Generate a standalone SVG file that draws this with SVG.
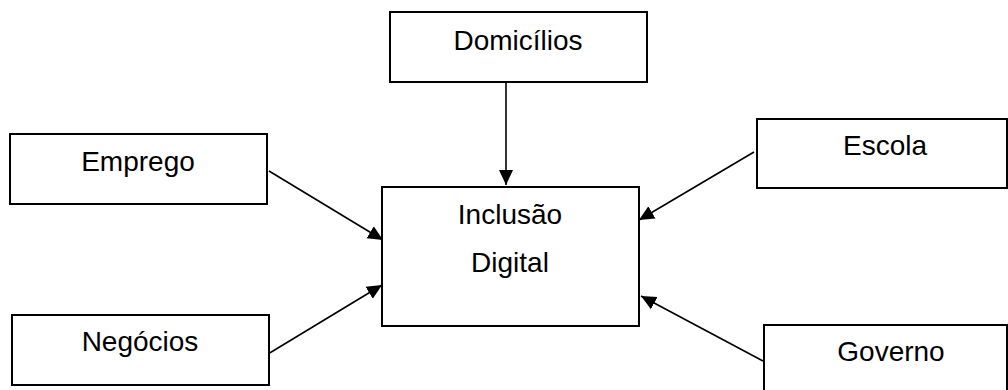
<svg xmlns="http://www.w3.org/2000/svg" width="1008" height="390" viewBox="0 0 1008 390">
<style>
.box{fill:#fff;stroke:#000;stroke-width:2}
.lbl{font-family:"Liberation Sans",Arial,sans-serif;font-size:28px;fill:#000;text-anchor:middle}
.conn{stroke:#000;stroke-width:1.6;fill:none;marker-end:url(#arr)}
</style>
<defs>
<marker id="arr" markerUnits="userSpaceOnUse" markerWidth="16" markerHeight="16" viewBox="0 0 16 16" refX="15" refY="8" orient="auto">
<path d="M0,1 L15,8 L0,15 Z" fill="#000"/>
</marker>
</defs>
<rect width="1008" height="390" fill="#fff"/>
<g id="connectors">
<line class="conn" x1="506" y1="82" x2="506" y2="185"/>
<line class="conn" x1="269" y1="171" x2="383" y2="240"/>
<line class="conn" x1="754" y1="152" x2="639" y2="220"/>
<line class="conn" x1="268" y1="354" x2="382" y2="285"/>
<line class="conn" x1="763" y1="361" x2="641" y2="296"/>
</g>
<g id="domicilios">
<rect class="box" x="390" y="12" width="257" height="70"/>
<text class="lbl" x="518" y="50">Domicílios</text>
</g>
<g id="emprego">
<rect class="box" x="10" y="134" width="257" height="70"/>
<text class="lbl" x="138" y="171">Emprego</text>
</g>
<g id="escola">
<rect class="box" x="757" y="119" width="250" height="69"/>
<text class="lbl" x="885" y="155">Escola</text>
</g>
<g id="inclusao">
<rect class="box" x="382" y="187" width="257" height="139"/>
<text class="lbl" x="510" y="224">Inclusão</text>
<text class="lbl" x="510" y="272">Digital</text>
</g>
<g id="negocios">
<rect class="box" x="12" y="315" width="257" height="70"/>
<text class="lbl" x="140" y="351">Negócios</text>
</g>
<g id="governo">
<rect class="box" x="764" y="325" width="243" height="70"/>
<text class="lbl" x="891" y="361">Governo</text>
</g>
</svg>
